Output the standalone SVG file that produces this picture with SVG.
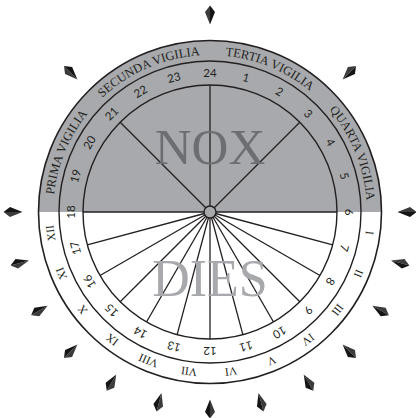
<svg xmlns="http://www.w3.org/2000/svg" width="416" height="418" viewBox="0 0 416 418">
<style>
.ring{fill:none;stroke:#231f20;stroke-width:1.4}
.ln{stroke:#231f20;stroke-width:1.3}
.num{font-family:"Lato","Liberation Sans",sans-serif;font-size:11.5px;fill:#231f20;text-anchor:middle}
.rom{font-family:"Liberation Serif",serif;font-size:11.5px;fill:#231f20;text-anchor:middle}
.vig{font-family:"Liberation Serif",serif;font-size:12.5px;fill:#231f20;text-anchor:middle}
.big{font-family:"Liberation Serif",serif;text-anchor:middle}
</style>
<defs>
<g id="mk"><polygon points="0,-9.5 -5,-3 0,9.5" fill="#3b3b3d"/><polygon points="0,-9.5 5,-3 0,9.5" fill="#151515"/></g>
<path id="vp" d="M210,369 A157,157 0 1 1 210,55 A157,157 0 1 1 210,369"/>
</defs>
<rect width="416" height="418" fill="#fff"/>
<g id="markers">
<use href="#mk" transform="rotate(0 210 212) translate(210 15)"/>
<use href="#mk" transform="rotate(45 210 212) translate(210 15)"/>
<use href="#mk" transform="rotate(315 210 212) translate(210 15)"/>
<use href="#mk" transform="rotate(90 210 212) translate(210 15)"/>
<use href="#mk" transform="rotate(105 210 212) translate(210 15)"/>
<use href="#mk" transform="rotate(120 210 212) translate(210 15)"/>
<use href="#mk" transform="rotate(135 210 212) translate(210 15)"/>
<use href="#mk" transform="rotate(150 210 212) translate(210 15)"/>
<use href="#mk" transform="rotate(165 210 212) translate(210 15)"/>
<use href="#mk" transform="rotate(180 210 212) translate(210 15)"/>
<use href="#mk" transform="rotate(195 210 212) translate(210 15)"/>
<use href="#mk" transform="rotate(210 210 212) translate(210 15)"/>
<use href="#mk" transform="rotate(225 210 212) translate(210 15)"/>
<use href="#mk" transform="rotate(240 210 212) translate(210 15)"/>
<use href="#mk" transform="rotate(255 210 212) translate(210 15)"/>
<use href="#mk" transform="rotate(270 210 212) translate(210 15)"/>
</g>
<g id="dial">
<circle cx="210" cy="212" r="171.5" fill="#fff"/>
<path d="M38.5,212 A171.5,171.5 0 0 1 381.5,212 Z" fill="#a7a9ac"/>
</g>
<g id="connectors">
<line class="ln" x1="83" y1="212" x2="337" y2="212"/>
<line class="ln" x1="210" y1="85" x2="210" y2="339"/>
<line class="ln" x1="210" y1="212" x2="210" y2="85" transform="rotate(45 210 212)"/>
<line class="ln" x1="210" y1="212" x2="210" y2="85" transform="rotate(315 210 212)"/>
<line class="ln" x1="210" y1="212" x2="210" y2="85" transform="rotate(105 210 212)"/>
<line class="ln" x1="210" y1="212" x2="210" y2="85" transform="rotate(120 210 212)"/>
<line class="ln" x1="210" y1="212" x2="210" y2="85" transform="rotate(135 210 212)"/>
<line class="ln" x1="210" y1="212" x2="210" y2="85" transform="rotate(150 210 212)"/>
<line class="ln" x1="210" y1="212" x2="210" y2="85" transform="rotate(165 210 212)"/>
<line class="ln" x1="210" y1="212" x2="210" y2="85" transform="rotate(195 210 212)"/>
<line class="ln" x1="210" y1="212" x2="210" y2="85" transform="rotate(210 210 212)"/>
<line class="ln" x1="210" y1="212" x2="210" y2="85" transform="rotate(225 210 212)"/>
<line class="ln" x1="210" y1="212" x2="210" y2="85" transform="rotate(240 210 212)"/>
<line class="ln" x1="210" y1="212" x2="210" y2="85" transform="rotate(255 210 212)"/>
</g>
<g id="rings">
<circle class="ring" cx="210" cy="212" r="171.5" style="stroke-width:1.6"/>
<circle class="ring" cx="210" cy="212" r="151"/>
<circle class="ring" cx="210" cy="212" r="127"/>
<circle cx="210" cy="212" r="6" fill="#a7a9ac" stroke="#231f20" stroke-width="1.4"/>
</g>
<g id="labels">
<text class="big" x="210" y="164" font-size="51" fill="#6d6e71">NOX</text>
<text class="big" x="210" y="296" font-size="52" fill="#a7a9ac">DIES</text>
</g>
<g id="hours">
<text class="num" x="210" y="77" transform="rotate(15 210 212)">1</text>
<text class="num" x="210" y="77" transform="rotate(30 210 212)">2</text>
<text class="num" x="210" y="77" transform="rotate(45 210 212)">3</text>
<text class="num" x="210" y="77" transform="rotate(60 210 212)">4</text>
<text class="num" x="210" y="77" transform="rotate(75 210 212)">5</text>
<text class="num" x="210" y="77" transform="rotate(90 210 212)">6</text>
<text class="num" x="210" y="77" transform="rotate(105 210 212)">7</text>
<text class="num" x="210" y="77" transform="rotate(120 210 212)">8</text>
<text class="num" x="210" y="77" transform="rotate(135 210 212)">9</text>
<text class="num" x="210" y="77" transform="rotate(150 210 212)">10</text>
<text class="num" x="210" y="77" transform="rotate(165 210 212)">11</text>
<text class="num" x="210" y="77" transform="rotate(180 210 212)">12</text>
<text class="num" x="210" y="77" transform="rotate(195 210 212)">13</text>
<text class="num" x="210" y="77" transform="rotate(210 210 212)">14</text>
<text class="num" x="210" y="77" transform="rotate(225 210 212)">15</text>
<text class="num" x="210" y="77" transform="rotate(240 210 212)">16</text>
<text class="num" x="210" y="77" transform="rotate(255 210 212)">17</text>
<text class="num" x="210" y="77" transform="rotate(270 210 212)">18</text>
<text class="num" x="210" y="77" transform="rotate(285 210 212)">19</text>
<text class="num" x="210" y="77" transform="rotate(300 210 212)">20</text>
<text class="num" x="210" y="77" transform="rotate(315 210 212)">21</text>
<text class="num" x="210" y="77" transform="rotate(330 210 212)">22</text>
<text class="num" x="210" y="77" transform="rotate(345 210 212)">23</text>
<text class="num" x="210" y="77">24</text>
</g>
<g id="roman">
<text class="rom" x="210" y="55" transform="rotate(97.5 210 212)">I</text>
<text class="rom" x="210" y="55" transform="rotate(112.5 210 212)">II</text>
<text class="rom" x="210" y="55" transform="rotate(127.5 210 212)">III</text>
<text class="rom" x="210" y="55" transform="rotate(142.5 210 212)">IV</text>
<text class="rom" x="210" y="55" transform="rotate(157.5 210 212)">V</text>
<text class="rom" x="210" y="55" transform="rotate(172.5 210 212)">VI</text>
<text class="rom" x="210" y="55" transform="rotate(187.5 210 212)">VII</text>
<text class="rom" x="210" y="55" transform="rotate(202.5 210 212)">VIII</text>
<text class="rom" x="210" y="55" transform="rotate(217.5 210 212)">IX</text>
<text class="rom" x="210" y="55" transform="rotate(232.5 210 212)">X</text>
<text class="rom" x="210" y="55" transform="rotate(247.5 210 212)">XI</text>
<text class="rom" x="210" y="55" transform="rotate(262.5 210 212)">XII</text>
</g>
<g id="vigiliae">
<text class="vig"><textPath href="#vp" startOffset="308.3">PRIMA VIGILIA</textPath></text>
<text class="vig"><textPath href="#vp" startOffset="428.8">SECUNDA VIGILIA</textPath></text>
<text class="vig"><textPath href="#vp" startOffset="554.9">TERTIA VIGILIA</textPath></text>
<text class="vig"><textPath href="#vp" startOffset="678.2">QUARTA VIGILIA</textPath></text>
</g>
</svg>
